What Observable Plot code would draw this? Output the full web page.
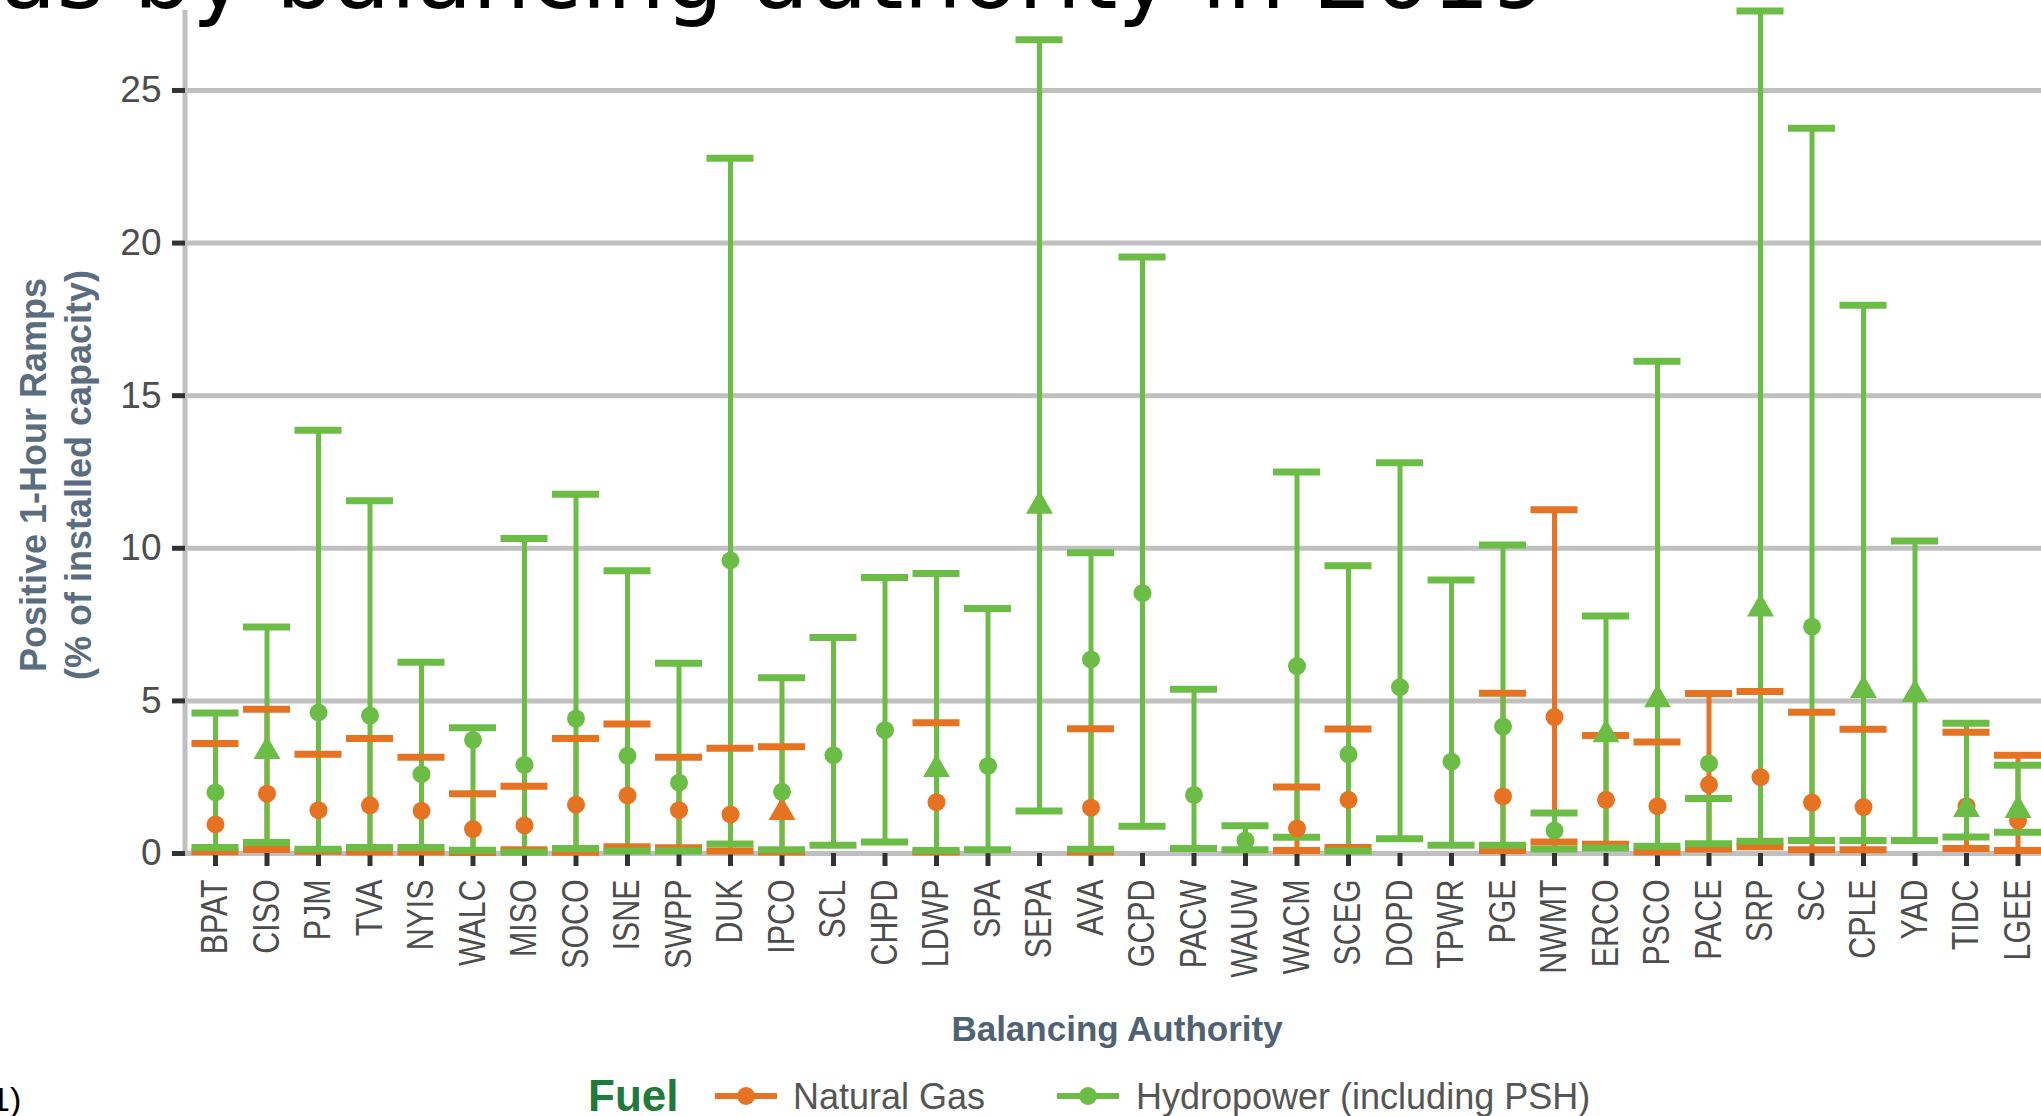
<!DOCTYPE html>
<html><head><meta charset="utf-8">
<script src="https://cdn.jsdelivr.net/npm/d3@7"></script>
<script src="https://cdn.jsdelivr.net/npm/@observablehq/plot@0.6"></script>
<style>
html,body{margin:0;padding:0;background:#fff;overflow:hidden;}
#wrap{position:relative;width:2041px;height:1116px;overflow:hidden;font-family:"Liberation Sans",Arial,sans-serif;}
#chart{position:absolute;left:0;top:0;width:2100px;}
#chart svg{max-width:none !important;width:2100px !important;height:990px !important;}
#overlay{position:absolute;left:0;top:0;pointer-events:none;}
</style></head><body>
<div id="wrap">
  <div id="chart"></div>
  <svg id="overlay" width="2041" height="1116"></svg>
</div>
<script>
// ---- data ----
const bas = ["BPAT","CISO","PJM","TVA","NYIS","WALC","MISO","SOCO","ISNE","SWPP","DUK","IPCO","SCL","CHPD","LDWP","SPA","SEPA","AVA","GCPD","PACW","WAUW","WACM","SCEG","DOPD","TPWR","PGE","NWMT","ERCO","PSCO","PACE","SRP","SC","CPLE","YAD","TIDC","LGEE"];

const hydroMin   = [0.2,0.36,0.14,0.2,0.2,0.11,0.04,0.16,0.08,0.08,0.31,0.12,0.27,0.38,0.1,0.12,1.39,0.14,0.89,0.16,0.12,0.53,0.08,0.48,0.27,0.27,0.15,0.18,0.24,0.32,0.4,0.43,0.43,0.43,0.54,0.7];
const hydroMax   = [4.6,7.42,13.87,11.56,6.27,4.12,10.32,11.77,9.26,6.23,22.78,5.76,7.08,9.04,9.17,8.03,26.66,9.85,19.54,5.38,0.91,12.5,9.43,12.8,8.96,10.11,1.33,7.78,16.13,1.8,27.6,23.76,17.96,10.24,4.27,2.89];
const hydroMid   = [2.0,3.35,4.62,4.52,2.6,3.72,2.9,4.42,3.2,2.32,9.6,2.02,3.22,4.04,2.76,2.87,11.39,6.36,8.53,1.92,0.43,6.14,3.25,5.45,3.01,4.16,0.75,3.9,5.05,2.95,8.02,7.43,5.35,5.22,1.45,1.42];
const hydroShape = ["circle","triangle","circle","circle","circle","circle","circle","circle","circle","circle","circle","circle","circle","circle","triangle","circle","triangle","circle","circle","circle","circle","circle","circle","circle","circle","circle","circle","triangle","triangle","circle","triangle","circle","triangle","triangle","triangle","triangle"];

const gasMin   = [0.06,0.13,0.07,0.05,0.05,0.03,0.12,0.04,0.22,0.19,0.08,0.05,null,null,0.05,null,null,0.05,null,null,null,0.1,0.2,null,null,0.1,0.38,0.3,0.05,0.15,0.22,0.12,0.12,null,0.16,0.1];
const gasMax   = [3.6,4.73,3.25,3.77,3.15,1.96,2.2,3.77,4.24,3.15,3.45,3.5,null,null,4.28,null,null,4.09,null,null,null,2.18,4.08,null,null,5.25,11.26,3.87,3.65,5.24,5.31,4.63,4.07,null,3.97,3.22];
const gasMid   = [0.95,1.96,1.42,1.58,1.4,0.8,0.92,1.6,1.9,1.42,1.28,1.35,null,null,1.68,null,null,1.5,null,null,null,0.82,1.76,null,null,1.87,4.47,1.76,1.55,2.26,2.5,1.67,1.52,null,1.55,1.08];
const gasShape = ["circle","circle","circle","circle","circle","circle","circle","circle","circle","circle","circle","triangle",null,null,"circle",null,null,"circle",null,null,null,"circle","circle",null,null,"circle","circle","circle","circle","circle","circle","circle","circle",null,"circle","circle"];

const yTicks = [0,5,10,15,20,25];
const fuels = ["Natural Gas","Hydropower (including PSH)"];
const fuelColors = ["#e57321","#6cbd45"];

// ---- build tables ----
const hydro = bas.map((ba,i)=>({ba, fuel:fuels[1], min:hydroMin[i], max:hydroMax[i], mid:hydroMid[i], shape:hydroShape[i]})).filter(d=>d.max!=null);
const gas = bas.map((ba,i)=>({ba, fuel:fuels[0], min:gasMin[i], max:gasMax[i], mid:gasMid[i], shape:gasShape[i]})).filter(d=>d.max!=null);

const GAS = fuelColors[0], HYD = fuelColors[1];
const circ = arr => arr.filter(d => d.shape === "circle");
const tri = arr => arr.filter(d => d.shape === "triangle");

const plot = Plot.plot({
  width: 2100, height: 990,
  marginLeft: 185, marginRight: 52.5, marginTop: 10, marginBottom: 137,
  style: {fontFamily: "'Liberation Sans', Arial, sans-serif", background: "transparent", overflow: "visible", maxWidth: "none"},
  x: {type: "band", domain: bas, paddingInner: 0.0874, paddingOuter: 0.1262, round: false, label: null},
  y: {domain: [0, 27.62], label: null},
  marks: [
    Plot.ruleY(yTicks, {stroke: "#c0c0c0", strokeWidth: 5}),
    Plot.axisY({ticks: yTicks, tickSize: 13, tickPadding: 11, fontSize: 37, label: null, stroke: "#333", strokeWidth: 5, fill: "#4d4d4d"}),
    Plot.axisX({tickSize: 13, tickPadding: 13, tickRotate: -90, fontSize: 37, label: null, stroke: "#333", strokeWidth: 5, fill: "#4d4d4d"}),
    Plot.ruleX(gas, {x: "ba", y1: "min", y2: "max", stroke: GAS, strokeWidth: 5}),
    Plot.ruleX(hydro, {x: "ba", y1: "min", y2: "max", stroke: HYD, strokeWidth: 5}),
    Plot.tickY(gas, {x: "ba", y: "max", stroke: GAS, strokeWidth: 7}),
    Plot.tickY(gas, {x: "ba", y: "min", stroke: GAS, strokeWidth: 7}),
    Plot.tickY(hydro, {x: "ba", y: "max", stroke: HYD, strokeWidth: 7}),
    Plot.tickY(hydro, {x: "ba", y: "min", stroke: HYD, strokeWidth: 7}),
    Plot.dot(circ(gas), {x: "ba", y: "mid", symbol: "circle", r: 9, fill: GAS, stroke: "none"}),
    Plot.dot(tri(gas), {x: "ba", y: "mid", symbol: "triangle", r: 10, fill: GAS, stroke: "none"}),
    Plot.dot(circ(hydro), {x: "ba", y: "mid", symbol: "circle", r: 9, fill: HYD, stroke: "none"}),
    Plot.dot(tri(hydro), {x: "ba", y: "mid", symbol: "triangle", r: 10, fill: HYD, stroke: "none"})
  ]
});
document.getElementById("chart").appendChild(plot);

const svg = d3.select(plot);
// condense x tick labels along their length
svg.selectAll('g[aria-label="x-axis tick label"] text').each(function() {
  const t = this.getAttribute("transform") || "";
  this.setAttribute("transform", (t + " scale(0.82,1)").trim());
});

// y axis line (left frame)
const ys = plot.scale("y");
svg.insert("line", "g[aria-label='rule'] + *")
  .attr("x1", 185).attr("x2", 185)
  .attr("y1", ys.apply(27.62)).attr("y2", ys.apply(0) + 2.5)
  .attr("stroke", "#c0c0c0").attr("stroke-width", 5);

// ---- overlay texts ----
const ov = d3.select("#overlay");
ov.append("text").text("as by balancing authority in 2019")
  .attr("x", 0).attr("y", 8).attr("font-size", 92).attr("fill", "#000")
  .attr("font-family", "'DejaVu Sans', sans-serif");

ov.append("text").text("1)").attr("x", -9).attr("y", 1111).attr("font-size", 34).attr("fill", "#000")
  .attr("font-family", "'Liberation Sans', Arial, sans-serif");

const yt = ov.append("g").attr("transform", "translate(0,475) rotate(-90)")
  .attr("fill", "#5a6d80").attr("font-weight", "bold").attr("font-size", 36)
  .attr("font-family", "'Liberation Sans', Arial, sans-serif").attr("text-anchor", "middle");
yt.append("text").attr("x", 0).attr("y", 46).text("Positive 1-Hour Ramps");
yt.append("text").attr("x", 0).attr("y", 91).text("(% of installed capacity)");

ov.append("text").text("Balancing Authority").attr("x", 1117).attr("y", 1041)
  .attr("text-anchor", "middle").attr("font-size", 35).attr("font-weight", "bold").attr("fill", "#4f6275")
  .attr("font-family", "'Liberation Sans', Arial, sans-serif");

// legend
const lg = ov.append("g").attr("font-family", "'Liberation Sans', Arial, sans-serif");
lg.append("text").text("Fuel").attr("x", 588).attr("y", 1111).attr("font-size", 44).attr("font-weight", "bold").attr("fill", "#1f7a3c");
const items = [{x: 715, tx: 793}, {x: 1057, tx: 1136}];
fuels.forEach((f, i) => {
  const it = items[i];
  lg.append("line").attr("x1", it.x).attr("x2", it.x + 62).attr("y1", 1096).attr("y2", 1096)
    .attr("stroke", fuelColors[i]).attr("stroke-width", 6);
  lg.append("circle").attr("cx", it.x + 31).attr("cy", 1096).attr("r", 9).attr("fill", fuelColors[i]);
  lg.append("text").text(f).attr("x", it.tx).attr("y", 1109).attr("font-size", 36).attr("fill", "#555");
});
</script>
</body></html>
